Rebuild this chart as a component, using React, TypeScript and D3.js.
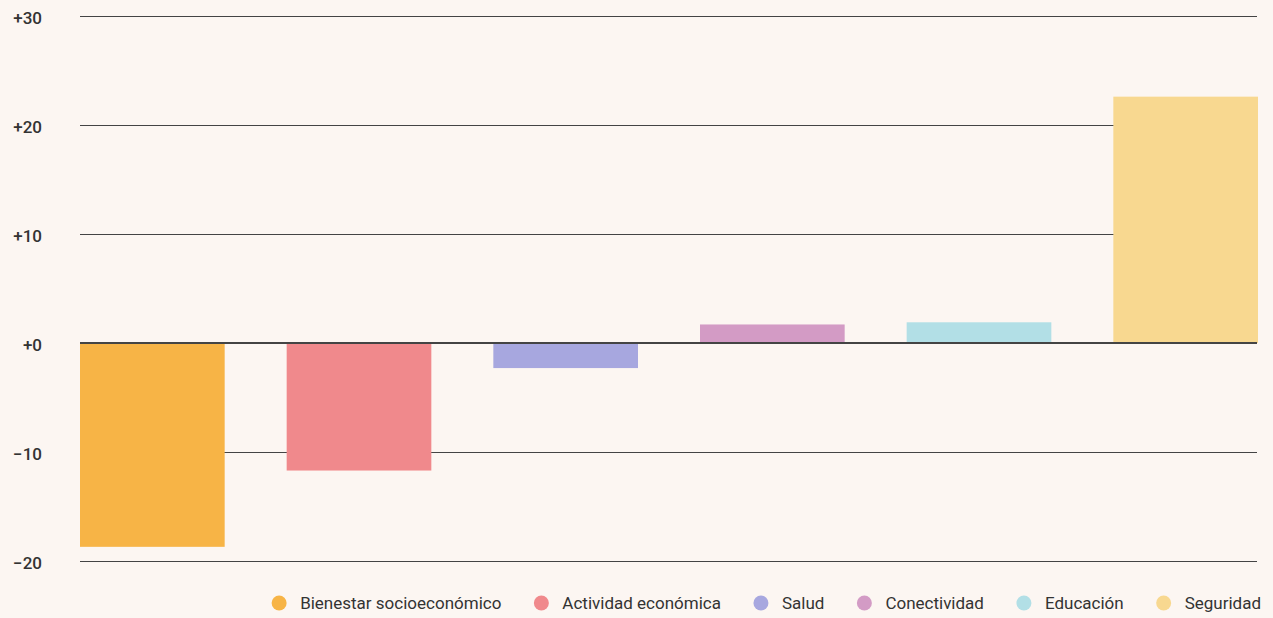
import React, { useEffect, useRef } from "react";
import * as d3 from "d3";

const categories: string[] = [
  "Bienestar socioeconómico",
  "Actividad económica",
  "Salud",
  "Conectividad",
  "Educación",
  "Seguridad",
];
const values: number[] = [-18.7, -11.7, -2.3, 1.7, 1.9, 22.6];
const colors: string[] = ["#F7B446", "#F0898C", "#A7A7DF", "#D39BC5", "#B2DFE6", "#F8D890"];
const yTicks: number[] = [-20, -10, 0, 10, 20, 30];
const yTickLabels: string[] = ["−20", "−10", "+0", "+10", "+20", "+30"];

const W = 1273;
const H = 618;
const FONT = "Roboto, 'Noto Sans', sans-serif";

export default function App() {
  const legendRef = useRef<SVGGElement | null>(null);

  useEffect(() => {
    document.body.style.margin = "0";
    document.body.style.background = "#FCF6F2";
  }, []);

  const x = d3.scaleBand<string>().domain(categories).range([80, 1258]).paddingInner(0.3).paddingOuter(0);
  const y = d3.scaleLinear().domain([-20, 30]).range([561, 16]);

  useEffect(() => {
    const g = d3.select(legendRef.current);
    g.selectAll("*").remove();
    const right = 1261;
    const dotToText = 21;
    const gapAfter = 40;
    const cy = 603;
    // measure widths
    const temp = g.append("g");
    const widths = categories.map((c) => {
      const t = temp.append("text").attr("font-family", FONT).attr("font-size", 17).text(c);
      const w = (t.node() as SVGTextElement).getComputedTextLength();
      return w;
    });
    temp.remove();
    let pos = right;
    const positions: number[] = [];
    for (let i = categories.length - 1; i >= 0; i--) {
      const textStart = pos - widths[i];
      positions[i] = textStart;
      pos = textStart - dotToText - gapAfter;
    }
    categories.forEach((c, i) => {
      const item = g.append("g");
      item
        .append("circle")
        .attr("cx", positions[i] - dotToText)
        .attr("cy", cy)
        .attr("r", 7.5)
        .attr("fill", colors[i]);
      item
        .append("text")
        .attr("x", positions[i])
        .attr("y", cy)
        .attr("dy", "0.35em")
        .attr("font-family", FONT)
        .attr("font-size", 17)
        .attr("fill", "#333")
        .text(c);
    });
  }, []);

  return (
    <svg width={W} height={H} style={{ display: "block", background: "#FCF6F2" }}>
      <rect x={0} y={0} width={W} height={H} fill="#FCF6F2" />
      <g>
        {yTicks
          .filter((t) => t !== 0)
          .map((t) => (
            <line
              key={t}
              x1={80}
              x2={1257}
              y1={Math.round(y(t)) + 0.5}
              y2={Math.round(y(t)) + 0.5}
              stroke="#444"
              strokeWidth={1}
            />
          ))}
      </g>
      <g>
        {yTicks.map((t, i) => (
          <text
            key={t}
            x={42}
            y={y(t) + 2}
            dy="0.35em"
            textAnchor="end"
            fontFamily={FONT}
            fontSize={17}
            fontWeight={500}
            fill="#333"
          >
            {yTickLabels[i]}
          </text>
        ))}
      </g>
      <g>
        {categories.map((c, i) => {
          const v = values[i];
          const y0 = y(0);
          const y1 = y(v);
          return (
            <rect
              key={c}
              x={x(c)}
              y={Math.min(y0, y1)}
              width={x.bandwidth()}
              height={Math.abs(y1 - y0)}
              fill={colors[i]}
            />
          );
        })}
      </g>
      <line x1={80} x2={1257} y1={y(0)} y2={y(0)} stroke="#444" strokeWidth={2} />
      <g ref={legendRef} />
    </svg>
  );
}
